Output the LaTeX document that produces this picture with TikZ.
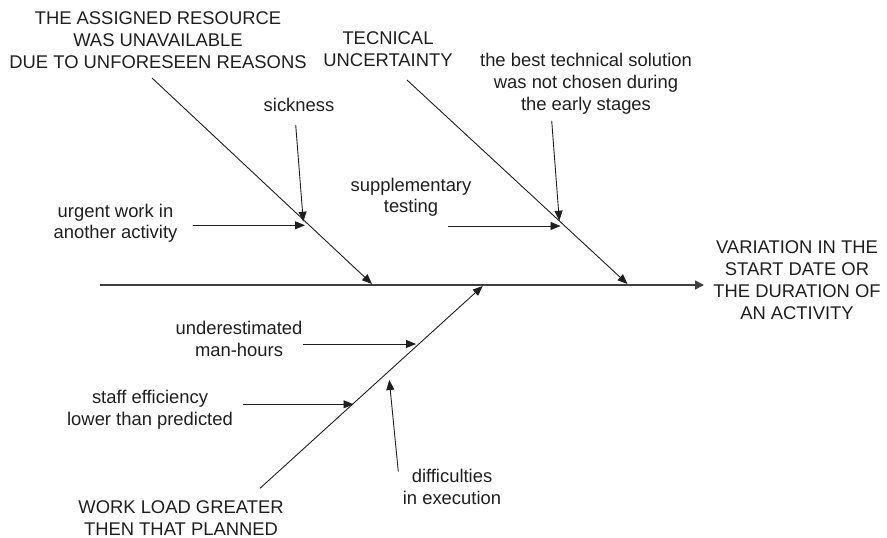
\documentclass[tikz,border=0pt]{standalone}
\usepackage{fontspec}
\setmainfont{Liberation Sans}
\usetikzlibrary{arrows.meta}
\begin{document}
\begin{tikzpicture}[x=1pt,y=-1pt,
  lbl/.style={inner sep=0pt,align=center,text=black!88,font=\fontsize{18.4}{21.8}\selectfont},
  bone/.style={draw=black!88,line width=0.9pt},
  cause/.style={bone,-{Triangle[length=10pt,width=8pt]}},
  spine/.style={draw=black!75,line width=1.5pt,-{Triangle[length=9pt,width=9pt]}}]
\useasboundingbox (0,0) rectangle (887,538);

% labels
\node[lbl] (effect) at (797,280) {VARIATION IN THE\\START DATE OR\\THE DURATION OF\\AN ACTIVITY};
\node[lbl] (resource) at (158,40) {THE ASSIGNED RESOURCE\\WAS UNAVAILABLE\\DUE TO UNFORESEEN REASONS};
\node[lbl] (tech) at (388,49.2) {TECNICAL\\UNCERTAINTY};
\node[lbl] (best) at (586,83.7) {the best technical solution\\was not chosen during\\the early stages};
\node[lbl] (sick) at (299,104.5) {sickness};
\node[lbl] (urgent) at (115.5,223.3) {urgent work in\\another activity};
\node[lbl] (supp) at (411,197.2) {supplementary\\testing};
\node[lbl] (under) at (239,339.2) {underestimated\\man-hours};
\node[lbl] (staff) at (150,410) {staff efficiency\\lower than predicted};
\node[lbl] (load) at (181,518.3) {WORK LOAD GREATER\\THEN THAT PLANNED};
\node[lbl] (diff) at (452,487) {difficulties\\in execution};

% spine
\coordinate (tail) at (99.5,285);
\coordinate (head) at (704,285);
\draw[spine] (tail) -- (head);

% main bones
\coordinate (r0) at (152,78);   \coordinate (r1) at (372,284);
\coordinate (t0) at (407,80);   \coordinate (t1) at (627.5,284);
\coordinate (w0) at (260,488.3); \coordinate (w1) at (482.7,286);
\draw[cause] (r0) -- (r1);
\draw[cause] (t0) -- (t1);
\draw[cause] (w0) -- (w1);

% minor causes
\coordinate (s0) at (295.7,125);  \coordinate (s1) at (303.3,221.7);
\coordinate (u0) at (192.7,225.3); \coordinate (u1) at (305,225.3);
\coordinate (b0) at (551.7,120.7); \coordinate (b1) at (559.3,220.7);
\coordinate (p0) at (448.3,226);  \coordinate (p1) at (560.5,226);
\coordinate (m0) at (303.3,344);  \coordinate (m1) at (416,344);
\coordinate (f0) at (243.3,404.3); \coordinate (f1) at (353.5,404.3);
\coordinate (d0) at (398.3,471.7); \coordinate (d1) at (389.3,380);
\draw[cause] (s0) -- (s1);
\draw[cause] (u0) -- (u1);
\draw[cause] (b0) -- (b1);
\draw[cause] (p0) -- (p1);
\draw[cause] (m0) -- (m1);
\draw[cause] (f0) -- (f1);
\draw[cause] (d0) -- (d1);
\end{tikzpicture}
\end{document}
